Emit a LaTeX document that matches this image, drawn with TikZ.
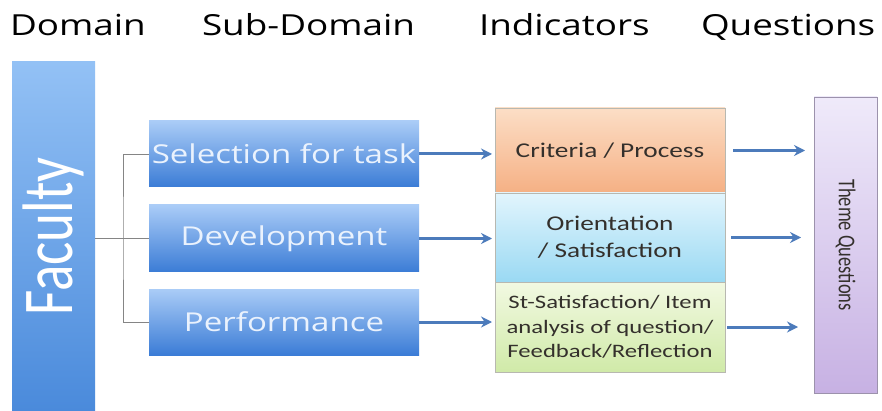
\documentclass[tikz,border=0pt]{standalone}
\usepackage{fontspec}
\setmainfont[FakeStretch=1.3]{Carlito}
\newfontfamily\headfont[FakeStretch=1.27]{Open Sans}
\newfontfamily\barfont{Carlito}
\usetikzlibrary{calc,arrows.meta}

\definecolor{factop}{HTML}{93C1F5}
\definecolor{facbot}{HTML}{4A8ADB}
\definecolor{subtop}{HTML}{AACCF7}
\definecolor{submid}{HTML}{76A8EC}
\definecolor{subbot}{HTML}{3B7CD6}
\definecolor{subtext}{HTML}{EAF2FD}
\definecolor{orgtop}{HTML}{FCDEC6}
\definecolor{orgbot}{HTML}{F5B084}
\definecolor{blutop}{HTML}{E2F5FD}
\definecolor{blubot}{HTML}{9AD9F3}
\definecolor{grntop}{HTML}{F2F9E2}
\definecolor{grnbot}{HTML}{D0EAA8}
\definecolor{purtop}{HTML}{EFEAFA}
\definecolor{purbot}{HTML}{C7B1E3}
\definecolor{indline}{HTML}{B8B8B0}
\definecolor{purline}{HTML}{9C92AC}
\definecolor{indtext}{HTML}{34302C}
\definecolor{arrowblue}{HTML}{4C7BBB}
\definecolor{treegray}{HTML}{858585}

% widen upright text of the rotated bars
\newcommand{\barwide}[1]{\scalebox{1}[1.3]{#1}}

\begin{document}
\begin{tikzpicture}[x=1pt,y=-1pt,inner sep=0pt,outer sep=0pt,
    box/.style={anchor=north west,align=center},
    subdom/.style={box,minimum width=270pt,minimum height=66pt,
        top color=subtop,middle color=submid,bottom color=subbot,
        text=subtext,font=\headfont\fontsize{26}{30}\selectfont},
    indic/.style={box,minimum width=230pt,draw=indline,line width=0.8pt,text=indtext},
    hdr/.style={anchor=base west,font=\headfont\fontsize{29}{34}\selectfont},
    tree/.style={draw=treegray,line width=0.9pt},
    flow/.style={draw=arrowblue,line width=3pt,-{Stealth[length=11pt,width=11pt]}}]
    \path[fill=white] (0,0) rectangle (882,411);
    \useasboundingbox (0,0) rectangle (882,411);

    % column headings
    \node[hdr] (hdom) at (10,36) {Domain};
    \node[hdr] (hsub) at (202,36) {Sub-Domain};
    \node[hdr] (hind) at (479,36) {Indicators};
    \node[hdr] (hque) at (701,36) {Questions};

    % domain bar
    \node[box,minimum width=83pt,minimum height=349pt,
        top color=factop,bottom color=facbot] (fac) at (12,62) {};
    \node[rotate=90,text=white,font=\barfont\fontsize{55}{60}\selectfont]
        (factxt) at (fac.center) {\barwide{Faculty}};

    % sub-domains
    \node[subdom] (sel) at (149,121) {Selection for task};
    \node[subdom,minimum height=67pt] (dev) at (149,205) {Development};
    \node[subdom] (perf) at (149,289) {Performance};

    % indicators
    \node[indic,minimum height=85pt,top color=orgtop,bottom color=orgbot,
        font=\fontsize{21}{26}\selectfont] (crit) at (495,108) {Criteria / Process};
    \node[indic,minimum height=89pt,top color=blutop,bottom color=blubot,
        font=\fontsize{21}{27}\selectfont] (orient) at (495,193)
        {Orientation\\ / Satisfaction};
    \node[indic,minimum height=90pt,top color=grntop,bottom color=grnbot,
        font=\fontsize{19}{24.5}\selectfont] (stsat) at (495,282)
        {St-Satisfaction/ Item\\ analysis of question/\\ Feedback/Reflection};

    % question bar
    \node[box,minimum width=63pt,minimum height=296pt,draw=purline,line width=0.9pt,
        top color=purtop,bottom color=purbot] (theme) at (814,97) {};
    \node[rotate=-90,text=indtext,font=\barfont\fontsize{18.5}{22}\selectfont]
        (themetxt) at (theme.center) {\barwide{Theme Questions}};

    % tree from domain to sub-domains
    \coordinate (fork) at (123,238);
    \draw[tree] (sel.west) -| (fork) |- (perf.west);
    \draw[tree] (fac.east |- dev.west) -- (dev.west);

    % sub-domain to indicator
    \draw[flow,shorten >=3pt] (sel.east) -- (sel.east -| crit.west);
    \draw[flow,shorten >=3pt] (dev.east) -- (dev.east -| orient.west);
    \draw[flow,shorten >=3pt] (perf.east) -- (perf.east -| stsat.west);

    % indicator to questions
    \draw[flow,shorten <=8pt,shorten >=9pt] (crit.east) -- (crit.east -| theme.west);
    \draw[flow,shorten <=6pt,shorten >=13pt] (orient.east) -- (orient.east -| theme.west);
    \draw[flow,shorten <=2pt,shorten >=16pt] (stsat.east) -- (stsat.east -| theme.west);
\end{tikzpicture}
\end{document}
